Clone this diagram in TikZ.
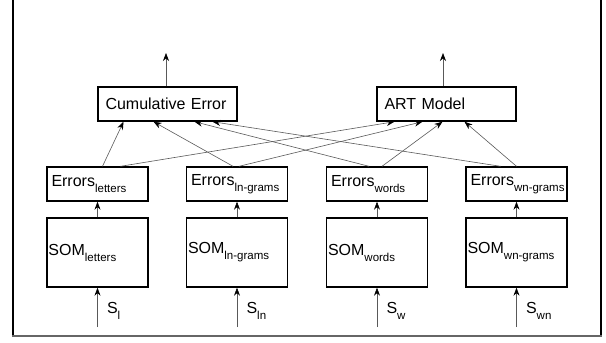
\documentclass[tikz,border=0pt]{standalone}
\usepackage{fontspec}
\setmainfont{Liberation Sans}
\usetikzlibrary{arrows.meta}
\newcommand{\lowsub}[1]{\raisebox{-6pt}{\fontsize{11.5}{12}\selectfont #1}}
\begin{document}
\begin{tikzpicture}[x=1pt,y=-1pt,
    box/.style={draw,line width=1.4pt,align=left,font=\fontsize{16}{18}\selectfont},
    errbox/.style={box,text width=92pt,inner xsep=4.5pt,minimum height=34pt},
    sombox/.style={box,text width=98pt,inner xsep=1.5pt,minimum height=69pt},
    topbox/.style={box,text width=124pt,inner xsep=7.5pt,minimum height=34pt},
    link/.style={draw=kLine,line width=0.6pt,-{Stealth[length=8pt,width=6pt,color=black]}}]
  \definecolor{kLine}{rgb}{0.35,0.35,0.35}
  \useasboundingbox (0,0) rectangle (606,343);

  \draw[line width=1.5pt] (13,0) -- (13,336);
  \draw[line width=1.5pt] (601,0) -- (601,336);
  \draw[line width=2.5pt,black!60] (12,336) -- (602,336);

  \node[topbox] (ce) at (167.5,104) {Cumulative Error};
  \node[topbox] (art) at (446.5,104) {ART Model};
  \coordinate (outce) at (166,53);
  \coordinate (outart) at (443,53);
  \draw[link] (outce |- ce.north) -- (outce);
  \draw[link] (outart |- art.north) -- (outart);

  \foreach \n/\x/\t in {l/97.5/letters, ln/237/ln-grams, w/377/words, wn/516.5/wn-grams}
  {
    \node[errbox] (err\n) at (\x,184) {Errors\lowsub{\t}};
    \node[sombox] (som\n) at (\x,252.5) {SOM\lowsub{\t}};
    \coordinate (in\n) at (\x,327);
    \node[anchor=west,font=\fontsize{16}{18}\selectfont] (s\n) at (\x+6,311) {S\lowsub{\n}};
    \draw[link] (in\n) -- (som\n);
    \draw[link] (som\n) -- (err\n);
  }

  \draw[link] ([xshift=5pt]errl.north) -- ([xshift=-44pt]ce.south);
  \draw[link] ([xshift=23pt]errl.north) -- ([xshift=-52pt]art.south);
  \draw[link] ([xshift=-4pt]errln.north) -- ([xshift=-14pt]ce.south);
  \draw[link] ([xshift=2pt]errln.north) -- ([xshift=-24pt]art.south);
  \draw[link] ([xshift=-8pt]errw.north) -- ([xshift=27pt]ce.south);
  \draw[link] ([xshift=5pt]errw.north) -- ([xshift=-4pt]art.south);
  \draw[link] ([xshift=-16pt]errwn.north) -- ([xshift=45pt]ce.south);
  \draw[link] ([xshift=0pt]errwn.north) -- ([xshift=18pt]art.south);
\end{tikzpicture}
\end{document}
